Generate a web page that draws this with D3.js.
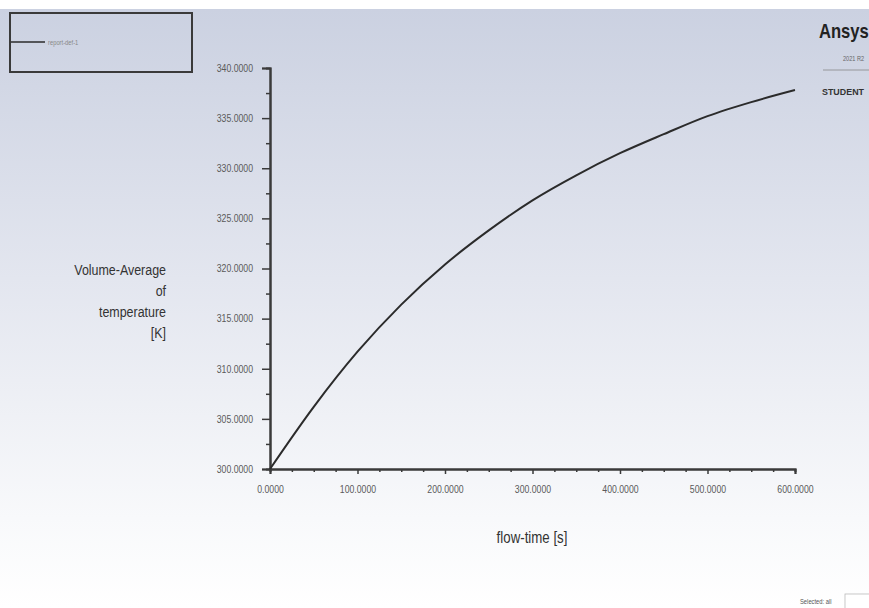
<!DOCTYPE html>
<html><head><meta charset="utf-8">
<script src="https://cdn.jsdelivr.net/npm/d3@7"></script>
<style>
html,body{margin:0;padding:0;background:#fff;}
svg{display:block;}
text{font-family:"Liberation Sans",Arial,sans-serif;}
</style></head>
<body>
<script>
// ---- data ----
const flowTime = [0, 50, 100, 150, 200, 250, 300, 350, 400, 450, 500, 550, 600];
const volAvgTemp = [300.0, 306.2, 311.7, 316.4, 320.4, 323.8, 326.8, 329.3, 331.5, 333.4, 335.2, 336.6, 337.8];
const xTicks = [0, 100, 200, 300, 400, 500, 600];
const yTicks = [300, 305, 310, 315, 320, 325, 330, 335, 340];
const seriesName = "report-def-1";
const yTitle = ["Volume-Average", "of", "temperature", "[K]"];
const xTitle = "flow-time [s]";

const W = 869, H = 608, SX = 0.83;
const svg = d3.select("body").append("svg").attr("width", W).attr("height", H);

const defs = svg.append("defs");
const grad = defs.append("linearGradient").attr("id", "bg").attr("x1", 0).attr("y1", 0).attr("x2", 0).attr("y2", 1);
grad.append("stop").attr("offset", "0%").attr("stop-color", "#cbd1e1");
grad.append("stop").attr("offset", "45%").attr("stop-color", "#e3e6ef");
grad.append("stop").attr("offset", "85%").attr("stop-color", "#f8f9fb");
grad.append("stop").attr("offset", "100%").attr("stop-color", "#ffffff");

svg.append("rect").attr("x", 0).attr("y", 0).attr("width", W).attr("height", H).attr("fill", "#ffffff");
svg.append("rect").attr("x", 0).attr("y", 9).attr("width", W).attr("height", H - 9).attr("fill", "url(#bg)");

function ctext(px, py, str, size, anchor, fill, weight, len) {
  const t = svg.append("text")
    .attr("transform", `translate(${px},${py}) scale(${SX},1)`)
    .attr("text-anchor", anchor || "start")
    .attr("font-size", size).attr("fill", fill || "#333")
    .attr("font-weight", weight || "normal").text(str);
  if (len) t.attr("textLength", len / SX).attr("lengthAdjust", "spacingAndGlyphs");
  return t;
}

const x = d3.scaleLinear().domain([0, 600]).range([270, 795]);
const y = d3.scaleLinear().domain([300, 340]).range([469, 68]);

const fmt = d3.format(".4f");
const axisColor = "#3a3a3a";

// y axis
const gy = svg.append("g").attr("transform", `translate(${x(0)},0)`);
gy.call(d3.axisLeft(y).tickValues(yTicks).tickSize(8).tickPadding(8).tickFormat(fmt));
gy.append("g").call(d3.axisLeft(y).tickValues(d3.range(302.5, 340, 5)).tickSize(4).tickFormat(""));
gy.selectAll(".domain").attr("stroke", axisColor).attr("stroke-width", 2);
gy.selectAll(".tick line").attr("stroke", axisColor).attr("stroke-width", 1.5);
gy.selectAll(".tick text").attr("fill", "#5a5a5a").attr("font-size", 10.5)
  .attr("x", null).attr("transform", `translate(-17,0) scale(${SX},1)`);

// x axis
const gx = svg.append("g").attr("transform", `translate(0,${y(300)})`);
gx.call(d3.axisBottom(x).tickValues(xTicks).tickSize(5).tickPadding(12).tickFormat(fmt));
gx.append("g").call(d3.axisBottom(x).tickValues(d3.range(25, 600, 25).filter(v => v % 100 !== 0)).tickSize(3).tickFormat(""));
gx.selectAll(".domain").attr("stroke", axisColor).attr("stroke-width", 2);
gx.selectAll(".tick line").attr("stroke", axisColor).attr("stroke-width", 1.5);
gx.selectAll(".tick text").attr("fill", "#5a5a5a").attr("font-size", 10.5)
  .attr("transform", `scale(${SX},1)`);

// curve
const pts = flowTime.map((t, i) => [t, volAvgTemp[i]]);
svg.append("path").datum(pts)
  .attr("fill", "none").attr("stroke", "#2b2b2b").attr("stroke-width", 2)
  .attr("d", d3.line().x(d => x(d[0])).y(d => y(d[1])).curve(d3.curveMonotoneX));

// axis titles
ctext(532, 543, xTitle, 16, "middle", "#333");
yTitle.forEach((s, i) => ctext(166, 275 + i * 21, s, 15, "end", "#333"));

// legend
svg.append("rect").attr("x", 10).attr("y", 13).attr("width", 182).attr("height", 59)
  .attr("fill", "none").attr("stroke", "#3a3a3a").attr("stroke-width", 2);
svg.append("line").attr("x1", 11).attr("x2", 45).attr("y1", 42).attr("y2", 42)
  .attr("stroke", "#2b2b2b").attr("stroke-width", 1.5);
ctext(48, 45, seriesName, 7, "start", "#888");

// Ansys logo
ctext(819, 38, "Ansys", 20, "start", "#222", "bold");
ctext(843, 61, "2021 R2", 8, "start", "#666", "normal", 21);
svg.append("line").attr("x1", 823).attr("x2", 869).attr("y1", 70).attr("y2", 70).attr("stroke", "#888").attr("stroke-width", 0.8);
ctext(822, 95, "STUDENT", 9, "start", "#333", "bold", 42);

// bottom-right selector
ctext(800, 604, "Selected: all", 7, "start", "#555");
svg.append("rect").attr("x", 845).attr("y", 594).attr("width", 30).attr("height", 20)
  .attr("fill", "#fff").attr("stroke", "#bbb").attr("stroke-width", 0.8);
</script>
</body></html>
